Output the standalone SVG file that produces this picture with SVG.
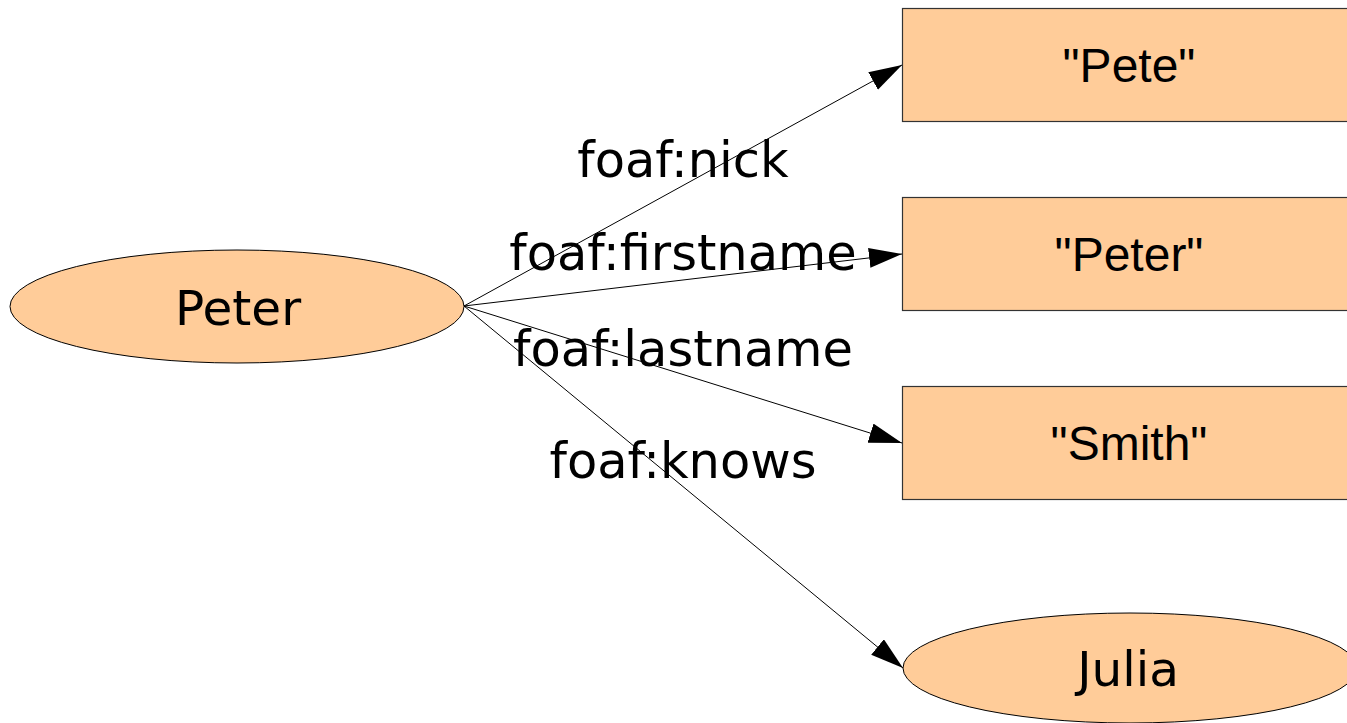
<svg xmlns="http://www.w3.org/2000/svg" width="1347" height="723" viewBox="0 0 1347 723">
<style>
.node{fill:#ffcc99;stroke:#000;stroke-width:1}
.box{fill:#ffcc99;stroke:#333;stroke-width:1.2}
.edge{stroke:#000;stroke-width:1;fill:none}
.lbl{font-family:"DejaVu Sans",sans-serif;font-size:49.5px;fill:#000;text-anchor:middle}
.nl{font-family:"DejaVu Sans",sans-serif;font-size:48.5px;fill:#000;text-anchor:middle}
.lit{font-family:"Liberation Sans",Arial,sans-serif;font-size:48px;fill:#000;text-anchor:middle}
</style>
<defs>
<marker id="ah" markerUnits="userSpaceOnUse" markerWidth="34" markerHeight="22" refX="33" refY="10" orient="auto" viewBox="0 0 34 22">
<path d="M0,0 L33,10 L0,20 z" fill="#000"/>
</marker>
</defs>
<rect width="1347" height="723" fill="#fff"/>
<g id="connectors">
<line class="edge" x1="464" y1="306" x2="902" y2="65" marker-end="url(#ah)"/>
<line class="edge" x1="464" y1="306" x2="902" y2="254" marker-end="url(#ah)"/>
<line class="edge" x1="464" y1="306" x2="902" y2="443" marker-end="url(#ah)"/>
<line class="edge" x1="464" y1="306" x2="903" y2="668" marker-end="url(#ah)"/>
<text class="lbl" x="683" y="177">foaf:nick</text>
<text class="lbl" x="683" y="270">foaf:firstname</text>
<text class="lbl" x="683" y="366">foaf:lastname</text>
<text class="lbl" x="683" y="478">foaf:knows</text>
</g>
<g id="peter">
<ellipse class="node" cx="237" cy="306.5" rx="227" ry="56.5"/>
<text class="nl" x="238" y="325">Peter</text>
</g>
<g id="pete">
<rect class="box" x="902.5" y="8.5" width="500" height="113"/>
<text class="lit" x="1129" y="82">"Pete"</text>
</g>
<g id="peter-lit">
<rect class="box" x="902.5" y="197.5" width="500" height="113"/>
<text class="lit" x="1129" y="271">"Peter"</text>
</g>
<g id="smith">
<rect class="box" x="902.5" y="386.5" width="500" height="113"/>
<text class="lit" x="1129" y="460">"Smith"</text>
</g>
<g id="julia">
<ellipse class="node" cx="1130" cy="668" rx="227" ry="55"/>
<text class="nl" x="1128" y="686">Julia</text>
</g>
</svg>
